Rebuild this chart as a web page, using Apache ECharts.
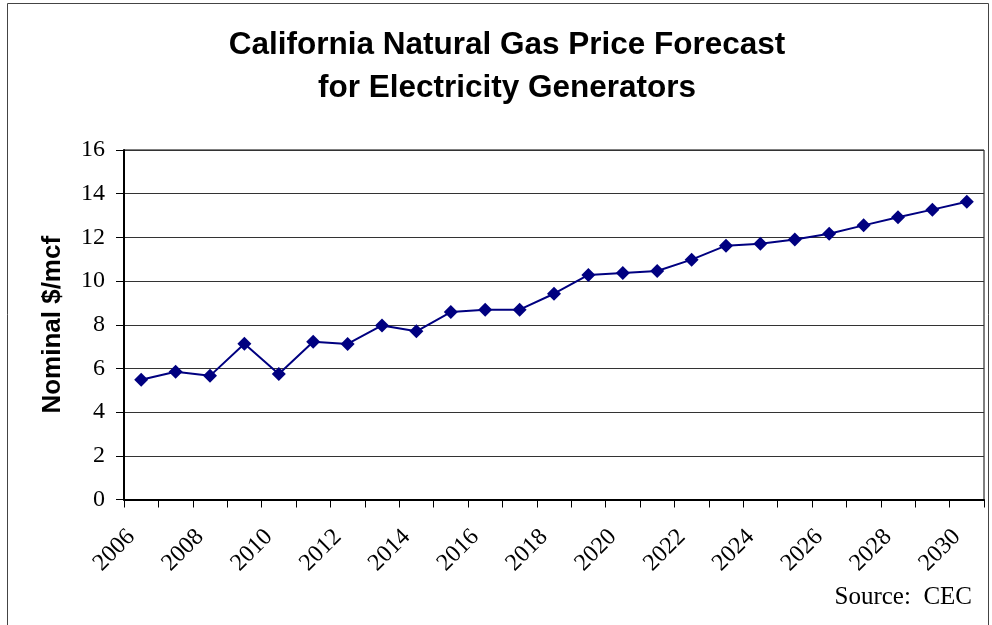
<!DOCTYPE html>
<html>
<head>
<meta charset="utf-8">
<script src="https://cdn.jsdelivr.net/npm/echarts@6/dist/echarts.min.js"></script>
<style>
html,body{margin:0;padding:0;background:#fff;}
#chart{width:992px;height:625px;}
</style>
</head>
<body>
<div id="chart"></div>
<script>
var years = ['2006','2007','2008','2009','2010','2011','2012','2013','2014','2015','2016','2017','2018','2019','2020','2021','2022','2023','2024','2025','2026','2027','2028','2029','2030'];
var prices = [5.48, 5.85, 5.66, 7.13, 5.75, 7.22, 7.12, 7.97, 7.70, 8.58, 8.69, 8.69, 9.42, 10.28, 10.37, 10.46, 10.98, 11.62, 11.71, 11.90, 12.17, 12.55, 12.92, 13.27, 13.63];
var titleLines = ['California Natural Gas Price Forecast', 'for Electricity Generators'];
var yAxisName = 'Nominal $/mcf';
var sourceText = 'Source:  CEC';

var chart = echarts.init(document.getElementById('chart'));
chart.setOption({
  animation: false,
  backgroundColor: '#fff',
  grid: {left: 124, right: 8, top: 150, bottom: 125.5, show: true, borderColor: '#000', borderWidth: 1, backgroundColor: 'transparent'},
  graphic: [
    {type: 'rect', shape: {x: 7.5, y: 3.5, width: 981, height: 640}, style: {fill: 'none', stroke: '#444', lineWidth: 1}, silent: true},
    {type: 'text', style: {text: titleLines[0], x: 507, y: 45, textAlign: 'center', textVerticalAlign: 'middle', font: 'bold 31.5px "Liberation Sans", Arial, sans-serif', fill: '#000'}},
    {type: 'text', style: {text: titleLines[1], x: 507, y: 88, textAlign: 'center', textVerticalAlign: 'middle', font: 'bold 31.5px "Liberation Sans", Arial, sans-serif', fill: '#000'}},
    {type: 'text', style: {text: sourceText, x: 972, y: 597, textAlign: 'right', textVerticalAlign: 'middle', font: '25px "Liberation Serif", "Times New Roman", serif', fill: '#000'}}
  ],
  xAxis: {
    type: 'category',
    data: years,
    boundaryGap: true,
    axisLine: {lineStyle: {color: '#000', width: 2}},
    axisTick: {show: true, length: 8, interval: 0, lineStyle: {color: '#000', width: 1}},
    axisLabel: {interval: 1, rotate: 45, margin: 24, padding: [0, 14, 0, 0], color: '#000', fontSize: 24, fontFamily: '"Liberation Serif", "Times New Roman", serif'},
    splitLine: {show: false}
  },
  yAxis: {
    type: 'value',
    min: 0, max: 16, interval: 2,
    name: yAxisName,
    nameLocation: 'middle',
    nameGap: 58,
    nameRotate: 90,
    nameTextStyle: {color: '#000', fontSize: 26, fontWeight: 'bold', fontFamily: '"Liberation Sans", Arial, sans-serif'},
    axisLine: {show: true, lineStyle: {color: '#000', width: 2}},
    axisTick: {show: true, length: 8, lineStyle: {color: '#000', width: 1}},
    axisLabel: {margin: 19, color: '#000', fontSize: 24, fontFamily: '"Liberation Serif", "Times New Roman", serif'},
    splitLine: {show: true, lineStyle: {color: '#333', width: 1}}
  },
  series: [{
    type: 'line',
    data: prices,
    symbol: 'diamond',
    symbolSize: 14,
    itemStyle: {color: '#000080'},
    lineStyle: {color: '#000080', width: 2}
  }]
});
</script>
</body>
</html>
